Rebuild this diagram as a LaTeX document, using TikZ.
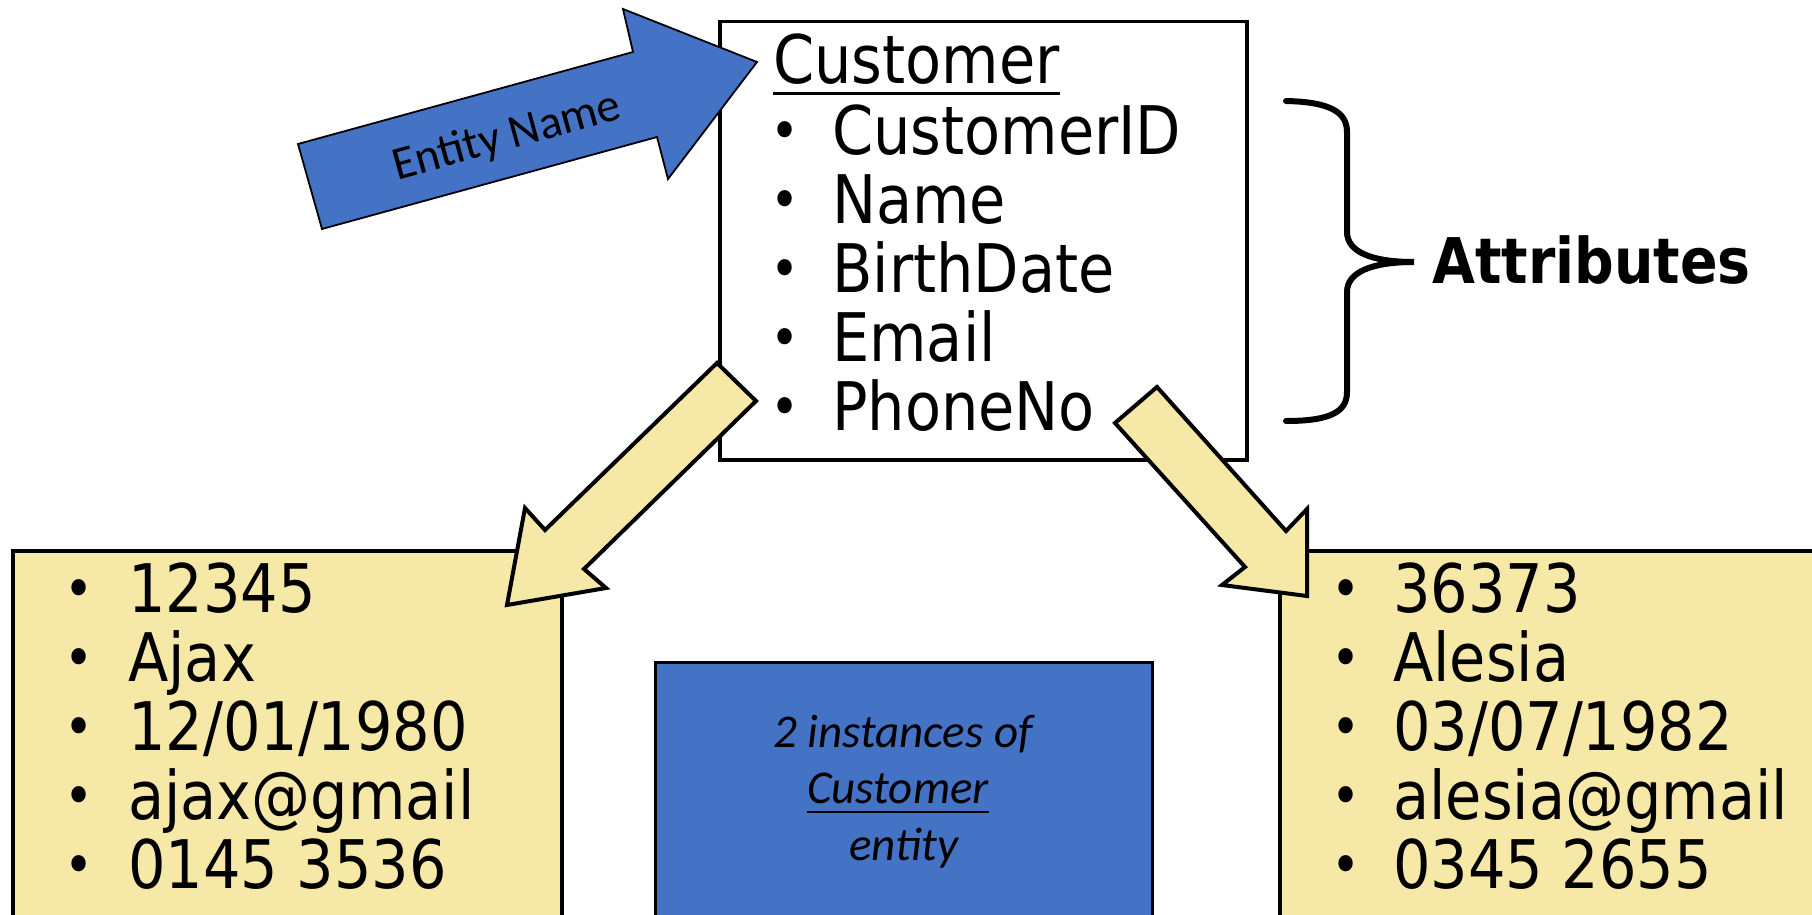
\documentclass[tikz,border=0pt]{standalone}
\usepackage{fontspec}
\newfontfamily\comic[FakeStretch=0.88]{DejaVu Sans}
\newfontfamily\calibri{Carlito}
\definecolor{officeblue}{HTML}{4472C4}
\definecolor{paleyellow}{HTML}{F6E8A6}
\begin{document}
\begin{tikzpicture}[x=1pt,y=-1pt,
  box/.style={draw=black, line width=3.5pt, inner sep=0pt, anchor=north west},
  item/.style={font=\comic\fontsize{67}{67}\selectfont, anchor=base west, inner sep=0pt},
  bul/.style={font=\comic\fontsize{56}{56}\selectfont, anchor=base, inner sep=0pt},
  yarrow/.style={draw=black, line width=4pt, line join=miter, fill=paleyellow},
  barrow/.style={draw=black, line width=1.8pt, line join=miter, fill=officeblue},
  uline/.style={line width=3pt},
]
\useasboundingbox (0,0) rectangle (1812,915);
\clip (0,0) rectangle (1812,915);
\fill[white] (0,0) rectangle (1812,915);

% boxes
\node[box, fill=white, minimum width=527, minimum height=438] (cust) at (718,20) {};
\node[box, line width=4pt, fill=paleyellow, minimum width=549, minimum height=400] (left) at (11,549) {};
\node[box, line width=4pt, fill=paleyellow, minimum width=540, minimum height=400] (right) at (1278,549) {};
\node[box, line width=3pt, fill=officeblue, minimum width=497, minimum height=300] (inst) at (654,661) {};

% entity title and attributes
\node[item] (title) at (773,84) {Customer};
\draw[uline] ([yshift=-10pt]title.base west) -- ([yshift=-10pt]title.base east);

\node[item] (a1) at (832,154) {CustomerID};
\node[item] (a2) at (832,223) {Name};
\node[item] (a3) at (832,292) {BirthDate};
\node[item] (a4) at (832,361) {Email};
\node[item] (a5) at (832,430) {PhoneNo};
\node[bul] (ab1) at (785,150) {•};
\node[bul] (ab2) at (785,219) {•};
\node[bul] (ab3) at (785,288) {•};
\node[bul] (ab4) at (785,357) {•};
\node[bul] (ab5) at (785,426) {•};

% brace and label
\draw[line width=6pt, line cap=round]
  (1286,101) .. controls (1330,102) and (1347,112) .. (1347,132)
  -- (1347,232) .. controls (1347,252) and (1372,262) .. (1414,262)
  .. controls (1372,262) and (1347,272) .. (1347,292)
  -- (1347,392) .. controls (1347,412) and (1330,421) .. (1286,421);
\node[font=\comic\bfseries\fontsize{63}{63}\selectfont, anchor=base west, inner sep=0pt] (attrs) at (1432,283) {Attributes};

% left instance
\node[item] (l1) at (128,612) {12345};
\node[item] (l2) at (128,681) {Ajax};
\node[item] (l3) at (128,750) {12/01/1980};
\node[item] (l4) at (128,819) {ajax@gmail};
\node[item] (l5) at (128,888) {0145 3536};
\node[bul] (lb1) at (79,608) {•};
\node[bul] (lb2) at (79,677) {•};
\node[bul] (lb3) at (79,746) {•};
\node[bul] (lb4) at (79,815) {•};
\node[bul] (lb5) at (79,884) {•};

% right instance
\node[item] (r1) at (1393,612) {36373};
\node[item] (r2) at (1393,681) {Alesia};
\node[item] (r3) at (1393,750) {03/07/1982};
\node[item] (r4) at (1393,819) {alesia@gmail};
\node[item] (r5) at (1393,888) {0345 2655};
\node[bul] (rb1) at (1346,608) {•};
\node[bul] (rb2) at (1346,677) {•};
\node[bul] (rb3) at (1346,746) {•};
\node[bul] (rb4) at (1346,815) {•};
\node[bul] (rb5) at (1346,884) {•};

% centre note
\node[font=\calibri\itshape\fontsize{47}{47}\selectfont, anchor=base, inner sep=0pt] (n1) at (903,747) {2 instances of};
\node[font=\calibri\itshape\fontsize{47}{47}\selectfont, anchor=base, inner sep=0pt] (n2) at (898,803) {Customer};
\draw[line width=2.5pt] ([yshift=-9pt]n2.base west) -- ([yshift=-9pt]n2.base east);
\node[font=\calibri\itshape\fontsize{47}{47}\selectfont, anchor=base, inner sep=0pt] (n3) at (904,860) {entity};

% yellow block arrows
\draw[yarrow] (717,363) -- (756,401) -- (584,569) -- (606,588) -- (507,605) -- (525,508) -- (545,530) -- cycle;
\draw[yarrow] (1157,387) -- (1115,423) -- (1245,567) -- (1222,585) -- (1307,596) -- (1307,509) -- (1286,531) -- cycle;

% blue block arrow
\draw[barrow] (298,144) -- (633,52) -- (623,9) -- (757,62) -- (668,179) -- (657,137) -- (322,229) -- cycle;
\node[font=\calibri\fontsize{47}{47}\selectfont, rotate=15.4, inner sep=0pt] (ename) at (507,137) {Entity Name};
\end{tikzpicture}
\end{document}
